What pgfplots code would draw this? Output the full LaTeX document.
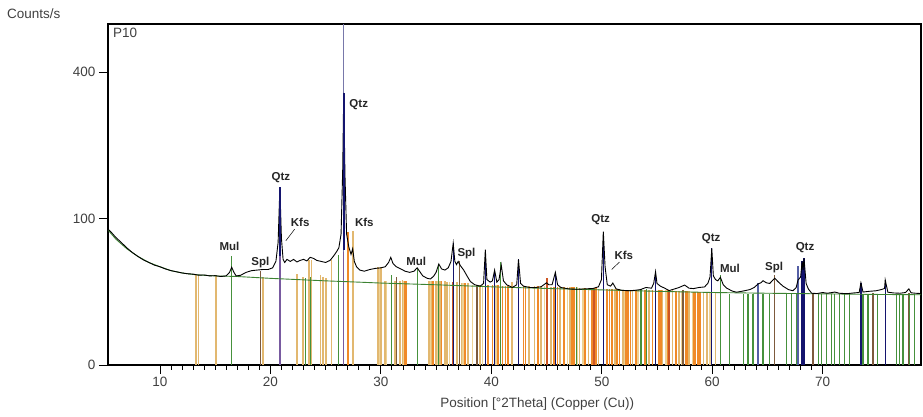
\documentclass[border=0pt]{standalone}
\usepackage{fontspec}
\setmainfont{Liberation Sans}
\usepackage{pgfplots}
\pgfplotsset{compat=1.18}
\definecolor{tanc}{RGB}{226,184,112}
\definecolor{tanl}{RGB}{238,210,150}
\definecolor{orng}{RGB}{240,138,40}
\definecolor{redor}{RGB}{205,85,35}
\definecolor{brwn}{RGB}{125,90,60}
\definecolor{grn}{RGB}{70,145,60}
\definecolor{bgline}{RGB}{60,130,50}
\definecolor{navyc}{RGB}{20,20,110}
\definecolor{slate}{RGB}{85,95,165}
\definecolor{purp}{RGB}{120,90,160}
\definecolor{stickq}{RGB}{120,120,170}

\begin{document}
\begin{tikzpicture}
\begin{axis}[
  scale only axis, width=813pt, height=341pt,
  xmin=5.3, xmax=78.9, ymin=0, ymax=542,
  y coord trafo/.code={\pgfmathparse{sqrt(#1)}},
  y coord inv trafo/.code={\pgfmathparse{(#1)^2}},
  ytick={0,100,400}, yticklabels={0,100,400},
  xtick={10,20,...,70}, minor x tick num=9,
  tick pos=left, tick align=outside,
  major tick length=9pt, minor tick length=4.5pt,
  tick style={black, line width=0.8pt},
  axis line style={black, line width=1.4pt},
  ticklabel style={font=\fontsize{13.5}{16}\selectfont, text=black!75},
  /pgf/number format/assume math mode=true,
  xlabel={Position [°2Theta] (Copper (Cu))},
  xlabel style={font=\fontsize{13.5}{16}\selectfont, text=black!75,
    at={(rel axis cs:0.528,0)}, anchor=center, yshift=-39pt},
]
% reference sticks
\addplot[ycomb, no marks, tanl, line width=1.6pt] coordinates {
 (29.9,44) (30.5,33) (32.0,33) (34.5,33) (35.1,33) (36.2,32) (37.45,31)
 (38.3,30) (39.2,30) (40.4,30) (44.8,29) (46.9,28) (47.8,28) (48.3,27.5)
 (52.0,26.5) (53.3,26.5) (55.8,26) (57.2,25.5) (58.2,25) (59.8,25)
};
\addplot[ycomb, no marks, tanc, line width=1.6pt] coordinates {
 (13.26,38) (13.5,38) (15.07,38) (19.35,36) (22.42,39) (22.97,36) (23.48,51)
 (23.73,51) (24.54,38) (24.78,36) (25.02,35) (25.54,51) (27.49,84) (29.76,45)
 (30.0,45) (30.36,33) (31.27,33) (31.72,33) (31.95,34) (34.37,33) (34.6,33)
 (34.98,33) (35.34,33) (35.8,33) (36.0,32) (36.9,32) (37.3,31) (37.9,31)
 (38.96,30) (41.87,32) (43.4,29) (43.9,29) (44.5,29) (45.4,28.5) (46.2,28)
 (47.1,28) (48.0,27.5) (48.8,27.5) (49.7,27) (51.2,27) (51.9,26.5) (52.8,26.5)
 (54.3,26) (55.5,26) (56.4,26) (57.0,25.5) (57.9,25.5) (59.2,25) (59.5,25)
 (60.3,25)
};
\addplot[ycomb, no marks, orng, line width=1.6pt] coordinates {
 (27.04,82) (32.17,33) (32.3,33) (34.74,33) (35.5,33) (37.6,31) (39.71,30)
 (40.1,30) (40.6,30) (41.0,29) (41.3,29) (41.5,29) (42.9,29) (43.1,29)
 (44.2,29) (45.7,28.5) (46.0,28) (46.6,28) (47.3,28) (47.5,28) (48.5,27.5)
 (49.1,27.5) (49.5,27.5) (50.5,27) (50.7,27) (50.9,27) (51.4,27) (51.6,27)
 (52.2,26.5) (52.4,26.5) (52.6,26.5) (53.1,26.5) (53.9,26) (54.6,26) (55.2,26)
 (55.35,26) (56.0,26) (56.7,25.5) (57.6,25.5) (57.75,25.5) (58.35,25)
 (58.5,25) (58.65,25) (58.8,25) (58.9,25)
};
\addplot[ycomb, no marks, redor, line width=1.4pt] coordinates {
 (36.54,32) (45.05,35) (49.3,27.5) (56.1,26)
};
\addplot[ycomb, no marks, brwn, line width=1.3pt] coordinates {
 (19.11,41) (31.42,36) (37.09,50) (38.71,30) (57.36,26) (65.66,38) (69.12,24)
 (74.55,24) (77.8,24)
};
\addplot[ycomb, no marks, grn, line width=1.1pt] coordinates {
 (16.49,55) (23.21,35) (23.6,36) (26.14,56) (30.97,38) (33.3,44) (35.19,48)
 (40.86,49) (47.7,28) (53.5,27) (53.6,27) (54.05,27) (60.77,38) (61.58,23.5)
 (62.79,23.5) (63.24,23.5) (63.69,23.5) (64.6,23.5) (65.2,23.5) (66.71,23.5)
 (67.17,23.5) (67.62,23.5) (69.58,23.5) (69.88,23.5) (70.33,23.5) (70.79,23.5)
 (71.09,23.5) (71.54,23.5) (71.99,23.5) (72.44,23.5) (73.65,23.5) (74.1,23.5)
 (75.0,23.5) (76.67,23.5) (76.97,23.5) (77.27,23.5) (77.87,23.5) (78.33,23.5)
};
\addplot[ycomb, no marks, slate, line width=1.2pt] coordinates {
 (64.15,31) (67.77,46)
};
\addplot[ycomb, no marks, navyc, line width=1.3pt] coordinates {
 (36.55,69) (39.46,62) (40.3,42) (42.46,52) (45.8,40) (50.14,83) (54.87,40.6)
 (59.96,63.5) (68.14,50) (68.31,53) (73.46,31.5) (75.66,33.7)
};
\addplot[ycomb, no marks, stickq, line width=1.1pt] coordinates {(26.64,542)};
\addplot[ycomb, no marks, purp, line width=1.3pt] coordinates {(20.86,60) (26.64,60)};
% background
\addplot[bgline, line width=0.9pt, no marks] coordinates {
 (5.3,85) (6,74) (7,63) (8,55) (9,49) (10,45) (11,41.5) (12,39.5) (13,38.2)
 (14,37.5) (15,37) (17,36.5) (20,35) (25,33) (28,32) (30,31.3) (35,30)
 (40,28.5) (45,27.3) (50,26.3) (55,25.3) (60,24.5) (65,24) (70,23.6)
 (75,23.2) (78.9,23)
};
% measured profile
\addplot[black, line width=0.9pt, no marks] coordinates {
 (5.3,86) (5.6,82) (6.0,76) (6.5,70) (7.0,64) (7.5,59) (8.0,55) (8.5,51.5)
 (9.0,49) (9.5,46.5) (10.0,45) (10.5,43) (11.0,41.5) (11.5,40.5) (12.0,39.5)
 (12.5,38.8) (13.0,38.5) (13.5,37.6) (14.0,37.8) (14.5,37) (15.0,37.2)
 (15.5,36.5) (16.0,37) (16.3,40) (16.5,44.5) (16.7,40) (16.9,37) (17.3,37.5)
 (17.8,40) (18.3,41.5) (18.8,42) (19.3,42.5) (19.8,42.5) (20.2,44) (20.5,50)
 (20.7,70) (20.86,147) (21.0,75) (21.15,52) (21.3,49) (21.5,52) (21.8,50)
 (22.1,52) (22.4,49.5) (22.7,51) (23.0,52) (23.3,50.5) (23.6,54) (23.9,53)
 (24.2,51) (24.6,50) (25.0,49) (25.4,51) (25.7,55) (26.0,60) (26.2,64)
 (26.4,80) (26.55,180) (26.64,345) (26.75,170) (26.9,80) (27.1,65) (27.3,57)
 (27.45,63) (27.6,50) (27.8,45) (28.1,42) (28.5,41) (29.0,42.5) (29.5,43.5)
 (30.0,44) (30.4,45) (30.7,49) (30.9,54) (31.1,48) (31.4,45) (31.8,43)
 (32.2,41) (32.6,40) (33.0,41) (33.29,44) (33.5,41) (33.8,37) (34.2,35)
 (34.5,34.5) (34.8,37) (35.0,40) (35.25,47.5) (35.5,43) (35.8,42) (36.1,44)
 (36.35,50) (36.55,69) (36.7,50) (36.85,47) (37.0,50) (37.2,46) (37.5,42)
 (37.8,37) (38.1,32.5) (38.5,30) (39.0,29) (39.3,31) (39.46,62) (39.6,34)
 (39.9,32) (40.1,33) (40.3,42) (40.5,32) (40.7,34) (40.9,46.6) (41.1,33)
 (41.4,30) (41.9,28) (42.3,30) (42.46,52) (42.65,31) (42.9,29) (43.5,28)
 (44.0,28) (44.5,28.5) (45.0,31.5) (45.2,30) (45.5,30) (45.8,40) (46.0,30)
 (46.3,28) (47.0,27) (47.7,26.7) (48.5,27) (49.2,27.3) (49.7,28.5)
 (49.97,34) (50.14,83) (50.3,45) (50.5,30) (50.8,29) (51.0,31.3) (51.3,27)
 (51.8,26) (52.5,25.7) (53.0,26) (53.5,26.5) (54.0,28) (54.5,27.5) (54.7,31)
 (54.87,40.6) (55.0,31) (55.3,29) (55.7,27.5) (56.1,25.8) (56.6,27) (57.0,28)
 (57.5,29.8) (57.9,27.5) (58.3,27.2) (58.8,28) (59.3,28.4) (59.6,31) (59.8,36)
 (59.96,63.5) (60.1,37) (60.3,34) (60.5,33) (60.74,35.8) (61.0,30) (61.3,27.6)
 (61.8,25.5) (62.2,24.7) (62.8,25.5) (63.4,26.5) (63.8,28) (64.15,30.6)
 (64.4,31.5) (64.6,33.1) (64.9,31.5) (65.2,31) (65.66,35) (66.0,32) (66.4,29)
 (66.9,26.5) (67.3,25.7) (67.6,28) (67.77,33.7) (68.0,36) (68.14,50)
 (68.22,42) (68.31,53) (68.5,31) (68.7,27) (69.0,24) (69.5,23.8) (70.0,24.5)
 (70.4,24) (70.7,24.3) (71.1,24.8) (71.5,24) (72.2,23.7) (72.8,24.2)
 (73.3,24.5) (73.46,31.5) (73.65,24.8) (74.2,25.3) (74.85,25.7) (75.3,26.5)
 (75.6,27.3) (75.66,33.7) (75.9,24.7) (76.4,24.2) (77.0,24) (77.5,24.5)
 (77.8,27) (78.0,24.3) (78.4,24) (78.9,23.8)
};
% highlighted quartz peaks
\addplot[navyc, line width=1.8pt, no marks] coordinates {(20.86,55) (20.86,147)};
\addplot[navyc, line width=1.8pt, no marks] coordinates {(26.64,62) (26.64,345)};
% phase labels
\begin{scope}[every node/.style={font=\fontsize{11.5}{13}\selectfont\bfseries, text=black!85, inner sep=0pt}]
\node at (axis cs:16.3,66) {Mul};
\node at (axis cs:19.1,49.4) {Spl};
\node at (axis cs:20.95,163) {Qtz};
\node at (axis cs:22.7,95) {Kfs};
\node at (axis cs:28.0,315) {Qtz};
\node at (axis cs:28.5,95) {Kfs};
\node at (axis cs:33.2,50.4) {Mul};
\node at (axis cs:37.75,58.4) {Spl};
\node at (axis cs:49.9,98) {Qtz};
\node at (axis cs:52.0,56.4) {Kfs};
\node at (axis cs:59.9,75) {Qtz};
\node at (axis cs:61.6,43.8) {Mul};
\node at (axis cs:65.6,44.7) {Spl};
\node at (axis cs:68.4,63.8) {Qtz};
\end{scope}
\draw[black, line width=0.5pt] (axis cs:22.2,86) -- (axis cs:21.4,72);
\draw[black, line width=0.5pt] (axis cs:51.6,49.4) -- (axis cs:50.9,42.5);
\node[anchor=north west, inner sep=0pt, font=\fontsize{13.5}{16}\selectfont, text=black!75]
  at ([shift={(5pt,-4pt)}]rel axis cs:0,1) {P10};
\coordinate (bl) at (rel axis cs:0,0);
\coordinate (tr) at (rel axis cs:1,1);
\end{axis}
\node[anchor=west, inner sep=0pt, font=\fontsize{13.5}{16}\selectfont, text=black!75]
  at ([shift={(-101pt,10pt)}]bl |- tr) {Counts/s};
\pgfresetboundingbox
\path ([shift={(-108pt,-52pt)}]bl) rectangle ([shift={(2pt,24pt)}]tr);
\end{tikzpicture}
\end{document}
